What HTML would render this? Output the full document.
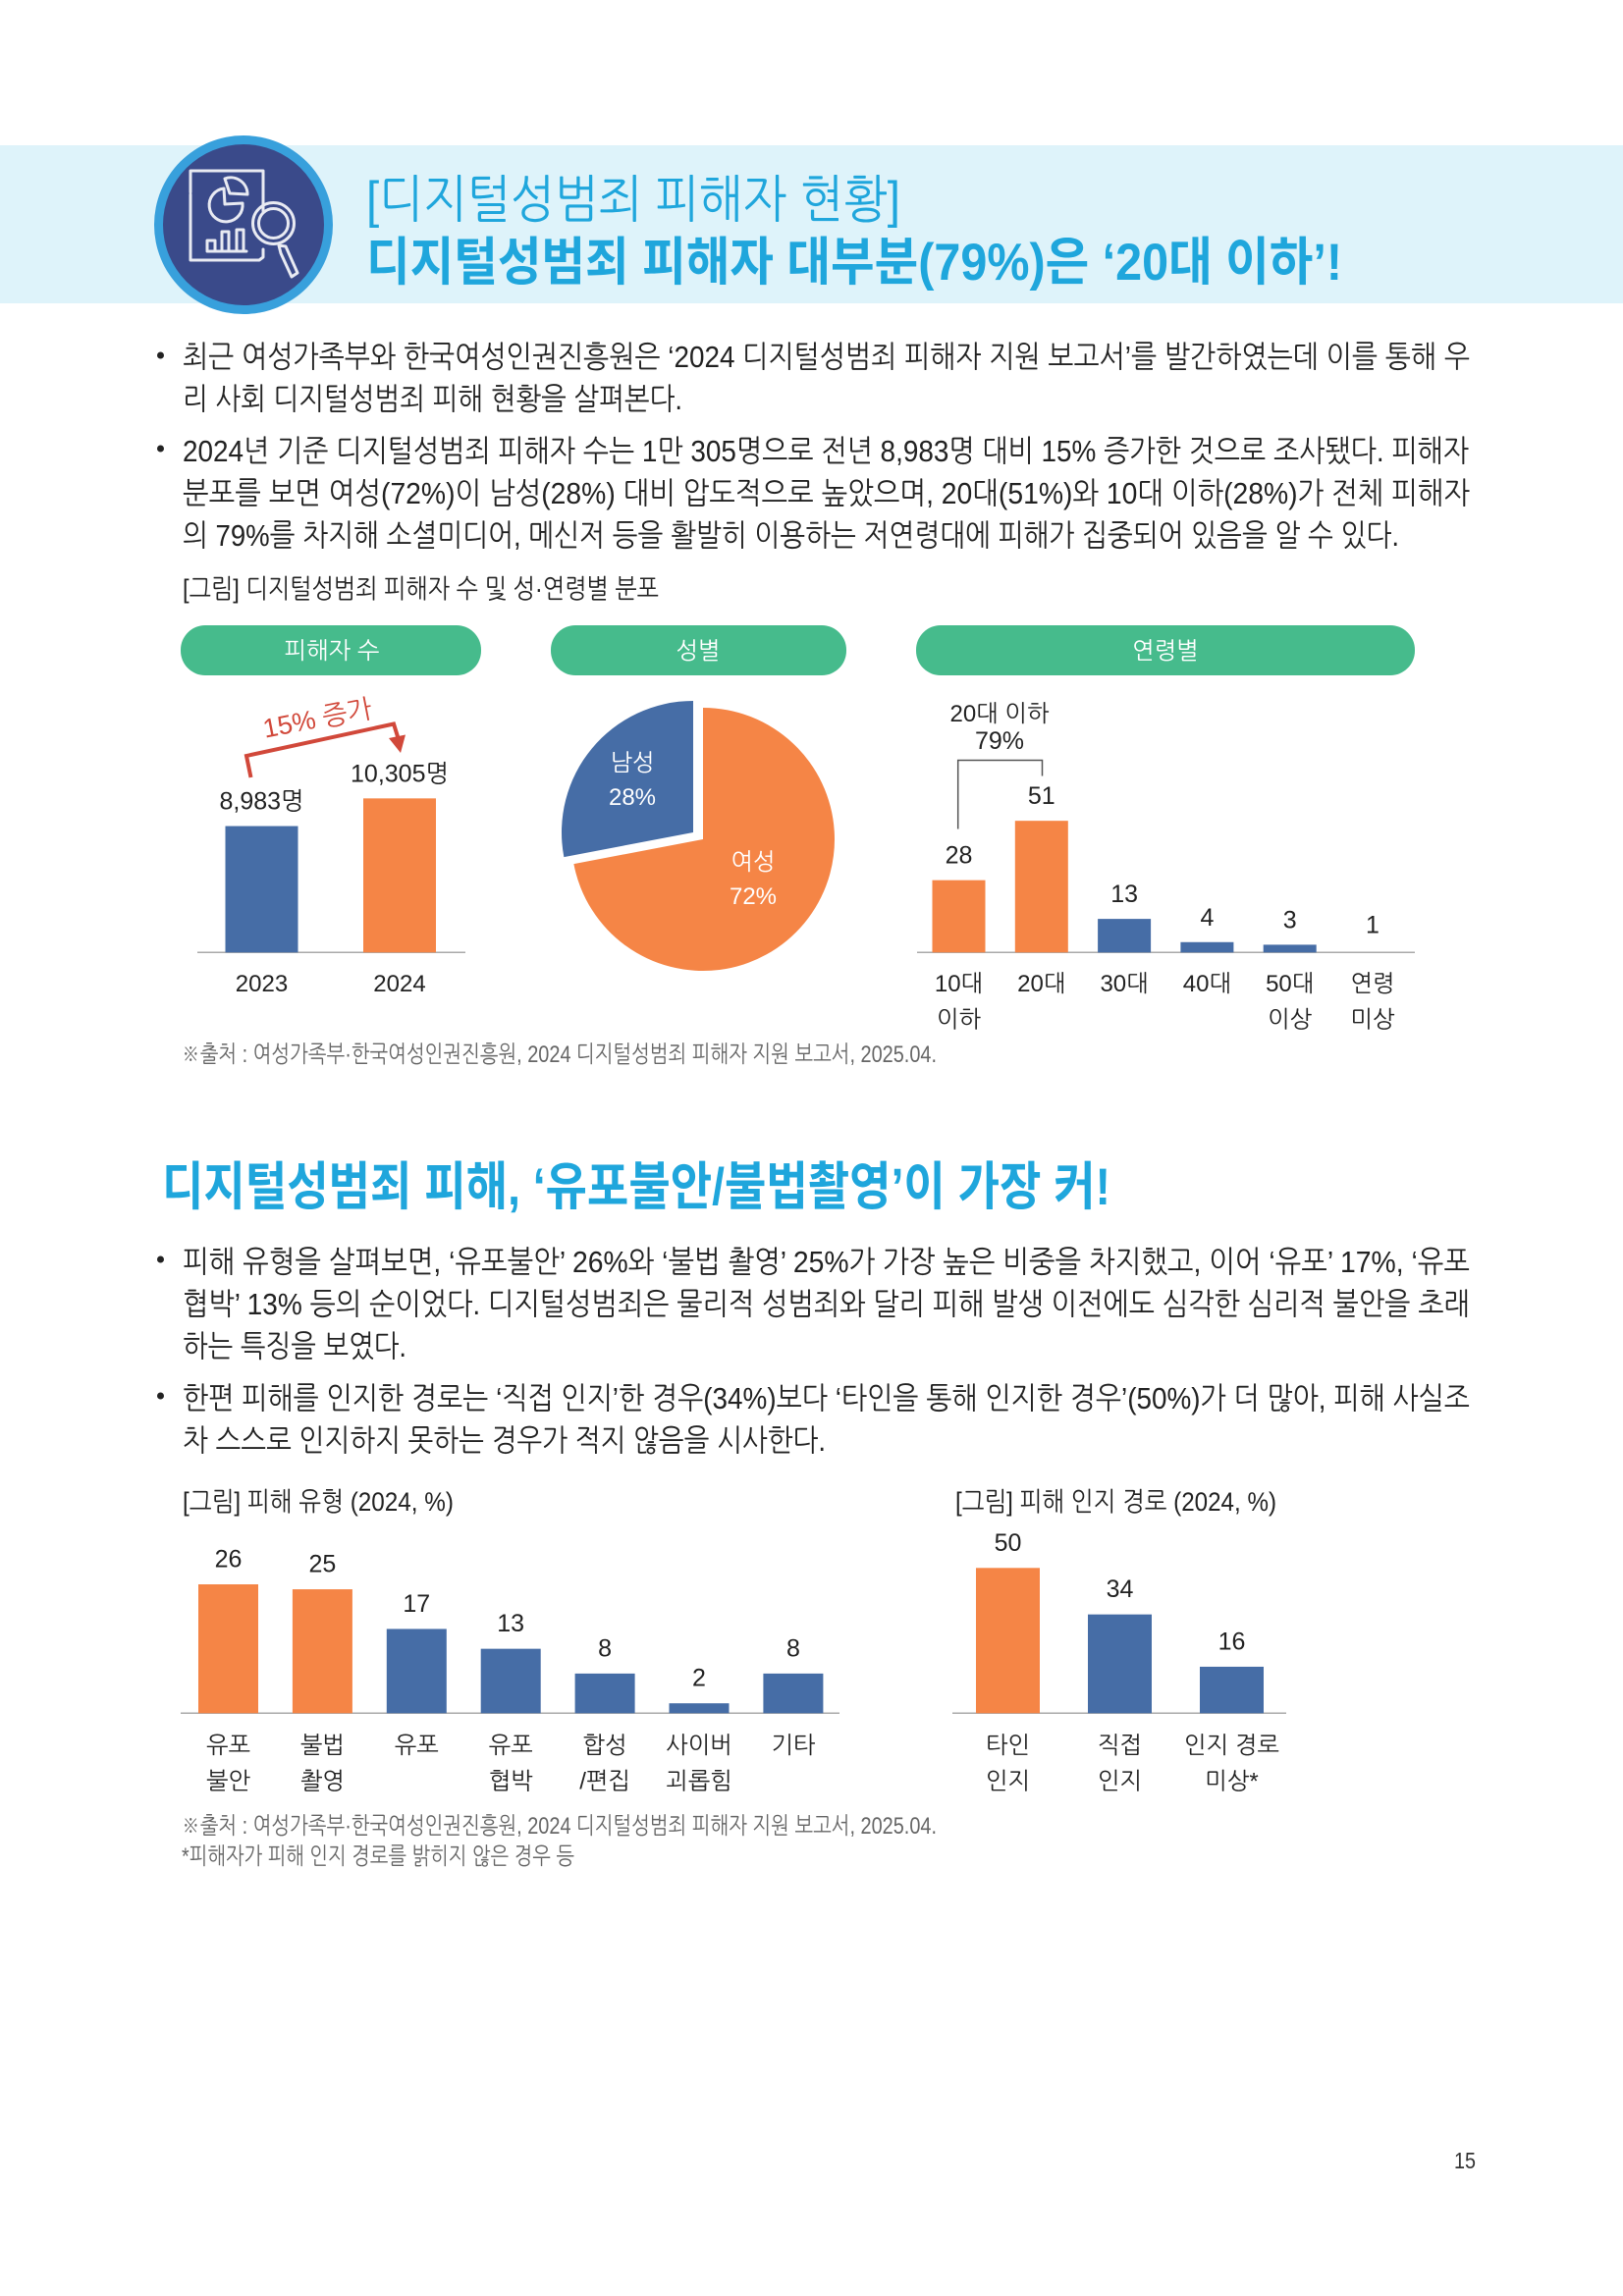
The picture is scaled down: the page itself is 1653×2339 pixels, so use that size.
<!DOCTYPE html>
<html lang="ko">
<head>
<meta charset="utf-8">
<title>디지털성범죄 피해자 현황</title>
<style>
html,body{margin:0;padding:0;background:#fff;}
svg{display:block;}
text{font-family:"Liberation Sans","NanumGothic","Noto Sans CJK KR",sans-serif;fill:#222;}
.body{font-size:31px;}
.cap{font-size:27px;}
.note{font-size:24px;fill:#666;}
.lab{font-size:25px;text-anchor:middle;}
.cat{font-size:24px;text-anchor:middle;}
.pill{font-size:24px;fill:#fff;text-anchor:middle;}
.h1{font-size:52px;fill:#1fa6dc;}
.h2{font-family:"Liberation Sans","Noto Sans CJK KR",sans-serif;font-size:53px;font-weight:700;fill:#1fa6dc;}
</style>
</head>
<body>
<svg id="page" xmlns="http://www.w3.org/2000/svg" width="1653" height="2339" viewBox="0 0 1653 2339">
  <rect x="0" y="148" width="1653" height="161" fill="#def3fa"/>
  <g>
    <circle cx="248" cy="229" r="91" fill="#38a0dc"/>
    <circle cx="248" cy="229" r="82" fill="#3a4a8a"/>
    <g fill="none" stroke="#e8eaf2" stroke-width="3" stroke-linecap="round" stroke-linejoin="round">
      <path d="M194 196V174H268V215M264 265H194V198M268 254V262L264 265"/>
      <path d="M228 192A17 17 0 1 0 247 207L229 208Z"/>
      <path d="M229 182L234 197L252 198A17 17 0 0 0 229 182Z"/>
      <path d="M211 255V245H219V255M226 255V236H233V255M241 255V234H248V255M211 256H251"/>
      <circle cx="278.500" cy="227.500" r="21"/>
      <circle cx="278.500" cy="227.500" r="15"/>
      <path d="M284 250L286 258L297 282L303 278L291 251Z"/>
    </g>
  </g>
  <text class="h1" x="373" y="221" textLength="544" lengthAdjust="spacingAndGlyphs">[디지털성범죄 피해자 현황]</text>
  <text class="h2" x="373" y="285" textLength="994" lengthAdjust="spacingAndGlyphs">디지털성범죄 피해자 대부분(79%)은 ‘20대 이하’!</text>

  <circle cx="163.500" cy="362" r="3.500" fill="#222"/>
  <text class="body" x="186" y="374" textLength="1311" lengthAdjust="spacingAndGlyphs">최근 여성가족부와 한국여성인권진흥원은 ‘2024 디지털성범죄 피해자 지원 보고서’를 발간하였는데 이를 통해 우</text>
  <text class="body" x="186" y="417" textLength="509" lengthAdjust="spacingAndGlyphs">리 사회 디지털성범죄 피해 현황을 살펴본다.</text>
  <circle cx="163.500" cy="457" r="3.500" fill="#222"/>
  <text class="body" x="186" y="470" textLength="1310" lengthAdjust="spacingAndGlyphs">2024년 기준 디지털성범죄 피해자 수는 1만 305명으로 전년 8,983명 대비 15% 증가한 것으로 조사됐다. 피해자</text>
  <text class="body" x="186" y="513" textLength="1311" lengthAdjust="spacingAndGlyphs">분포를 보면 여성(72%)이 남성(28%) 대비 압도적으로 높았으며, 20대(51%)와 10대 이하(28%)가 전체 피해자</text>
  <text class="body" x="186" y="556" textLength="1239" lengthAdjust="spacingAndGlyphs">의 79%를 차지해 소셜미디어, 메신저 등을 활발히 이용하는 저연령대에 피해가 집중되어 있음을 알 수 있다.</text>
  <text class="cap" x="186" y="609" textLength="485" lengthAdjust="spacingAndGlyphs">[그림] 디지털성범죄 피해자 수 및 성·연령별 분포</text>

  <rect x="184" y="637" width="306" height="51" rx="25" fill="#46bb8c"/>
  <text class="pill" x="338" y="671">피해자 수</text>
  <rect x="561" y="637" width="301" height="51" rx="25" fill="#46bb8c"/>
  <text class="pill" x="711" y="671">성별</text>
  <rect x="933" y="637" width="508" height="51" rx="25" fill="#46bb8c"/>
  <text class="pill" x="1187" y="671">연령별</text>

  <g id="chart-count">
    <g>
      <path d="M255.500 792L251 770L401 737.500L405.500 752" fill="none" stroke="#d1483a" stroke-width="4"/>
      <path d="M396 752L413 748.500L408 767Z" fill="#d1483a"/>
    </g>
    <text class="lab" x="0" y="0" transform="translate(325 741) rotate(-11)" style="fill:#d1483a;font-size:27px">15% 증가</text>
  </g>
  <g id="chart-gender"></g>
  <g id="chart-age">
    <path d="M975.700 844.500V774.500H1061.500V790.500" fill="none" stroke="#555" stroke-width="1.500"/>
    <text class="cat" x="1018" y="735">20대 이하</text>
    <text class="lab" x="1018" y="763">79%</text>
  </g>

  <text class="note" x="185" y="1082" textLength="769" lengthAdjust="spacingAndGlyphs">※출처 : 여성가족부·한국여성인권진흥원, 2024 디지털성범죄 피해자 지원 보고서, 2025.04.</text>

  <text class="h2" x="165" y="1227" textLength="966" lengthAdjust="spacingAndGlyphs">디지털성범죄 피해, ‘유포불안/불법촬영’이 가장 커!</text>

  <circle cx="163.500" cy="1283" r="3.500" fill="#222"/>
  <text class="body" x="186" y="1296" textLength="1311" lengthAdjust="spacingAndGlyphs">피해 유형을 살펴보면, ‘유포불안’ 26%와 ‘불법 촬영’ 25%가 가장 높은 비중을 차지했고, 이어 ‘유포’ 17%, ‘유포</text>
  <text class="body" x="186" y="1339" textLength="1311" lengthAdjust="spacingAndGlyphs">협박’ 13% 등의 순이었다. 디지털성범죄은 물리적 성범죄와 달리 피해 발생 이전에도 심각한 심리적 불안을 초래</text>
  <text class="body" x="186" y="1382" textLength="228" lengthAdjust="spacingAndGlyphs">하는 특징을 보였다.</text>
  <circle cx="163.500" cy="1422" r="3.500" fill="#222"/>
  <text class="body" x="186" y="1435" textLength="1311" lengthAdjust="spacingAndGlyphs">한편 피해를 인지한 경로는 ‘직접 인지’한 경우(34%)보다 ‘타인을 통해 인지한 경우’(50%)가 더 많아, 피해 사실조</text>
  <text class="body" x="186" y="1478" textLength="655" lengthAdjust="spacingAndGlyphs">차 스스로 인지하지 못하는 경우가 적지 않음을 시사한다.</text>

  <text class="cap" x="186" y="1539" textLength="276" lengthAdjust="spacingAndGlyphs">[그림] 피해 유형 (2024, %)</text>
  <text class="cap" x="973" y="1539" textLength="327" lengthAdjust="spacingAndGlyphs">[그림] 피해 인지 경로 (2024, %)</text>

  <g id="chart-type"></g>
  <g id="chart-path"></g>

  <text class="note" x="185" y="1868" textLength="769" lengthAdjust="spacingAndGlyphs">※출처 : 여성가족부·한국여성인권진흥원, 2024 디지털성범죄 피해자 지원 보고서, 2025.04.</text>
  <text class="note" x="185" y="1899" textLength="400" lengthAdjust="spacingAndGlyphs">*피해자가 피해 인지 경로를 밝히지 않은 경우 등</text>
  <text x="1481" y="2209" textLength="22" lengthAdjust="spacingAndGlyphs" style="font-size:23px;fill:#333">15</text>
</svg>

<script>
// Chart data
const countYears = ['2023', '2024'];
const countValues = [8983, 10305];
const countLabels = ['8,983명', '10,305명'];

const genderNames = ['여성', '남성'];
const genderShares = [72, 28];

const ageCategories = [['10대', '이하'], ['20대'], ['30대'], ['40대'], ['50대', '이상'], ['연령', '미상']];
const ageValues = [28, 51, 13, 4, 3, 1];

const typeCategories = [['유포', '불안'], ['불법', '촬영'], ['유포'], ['유포', '협박'], ['합성', '/편집'], ['사이버', '괴롭힘'], ['기타']];
const typeValues = [26, 25, 17, 13, 8, 2, 8];

const pathCategories = [['타인', '인지'], ['직접', '인지'], ['인지 경로', '미상*']];
const pathValues = [50, 34, 16];

const NS = 'http://www.w3.org/2000/svg';
const ORANGE = '#f58546';
const BLUE = '#466da6';

function svgEl(tag, parent) {
  const el = document.createElementNS(NS, tag);
  parent.appendChild(el);
  return el;
}

function drawBarChart(opts) {
  const g = document.getElementById(opts.id);
  const axis = svgEl('line', g);
  
  
  axis.setAttribute('x1', opts.axisFrom);
  axis.setAttribute('x2', opts.axisTo);
  axis.setAttribute('y1', opts.base);
  axis.setAttribute('y2', opts.base);
  axis.setAttribute('stroke', '#aaa');
  axis.setAttribute('stroke-width', '1.500');
  opts.values.forEach(function (v, i) {
    const cx = opts.x(i);
    const top = opts.y(v);
    const bar = svgEl('rect', g);
    
    
    bar.setAttribute('x', cx - opts.width / 2);
    bar.setAttribute('y', top);
    bar.setAttribute('width', opts.width);
    bar.setAttribute('height', opts.base - top);
    // marks below the visible threshold are not painted in the source figure
    bar.setAttribute('fill', v < opts.minVisible ? 'none' : opts.color(i));

    const val = svgEl('text', g);
    
    
    val.setAttribute('class', 'lab');
    val.setAttribute('x', cx);
    val.setAttribute('y', top - opts.labelGap);
    val.textContent = opts.labels ? opts.labels[i] : String(v);

    opts.categories[i].forEach(function (line, n) {
      const t = svgEl('text', g);
      
      
      t.setAttribute('class', 'cat');
      t.setAttribute('x', cx);
      t.setAttribute('y', opts.catY + n * 36.500);
      t.textContent = line;
    });
  });
}

// Victim count: the printed bars use a truncated baseline
drawBarChart({
  id: 'chart-count', values: countValues, labels: countLabels,
  categories: countYears.map(function (y) { return [y]; }),
  axisFrom: 201, axisTo: 474, base: 970.3, width: 74, labelGap: 17, catY: 1010, minVisible: 0,
  x: function (i) { return 266.500 + i * 140.500; },
  y: function (v) { return 970.3 - (v - 2950) * 0.02134; },
  color: function (i) { return i === 0 ? BLUE : ORANGE; }
});

drawBarChart({
  id: 'chart-age', values: ageValues, categories: ageCategories,
  axisFrom: 934, axisTo: 1441, base: 970.3, width: 54, labelGap: 17, catY: 1010, minVisible: 2,
  x: function (i) { return 976.5 + i * 84.300; },
  y: function (v) { return 970.3 - v * 2.63; },
  color: function (i) { return i < 2 ? ORANGE : BLUE; }
});

drawBarChart({
  id: 'chart-type', values: typeValues, categories: typeCategories,
  axisFrom: 184, axisTo: 855, base: 1745.3, width: 61, labelGap: 17.5, catY: 1786, minVisible: 0,
  x: function (i) { return 232.5 + i * 95.9; },
  y: function (v) { return 1745.3 - v * 5.05; },
  color: function (i) { return i < 2 ? ORANGE : BLUE; }
});

drawBarChart({
  id: 'chart-path', values: pathValues, categories: pathCategories,
  axisFrom: 970, axisTo: 1310, base: 1745.3, width: 65, labelGap: 17.5, catY: 1786, minVisible: 0,
  x: function (i) { return 1026.500 + i * 114; },
  y: function (v) { return 1745.3 - v * 2.96; },
  color: function (i) { return i === 0 ? ORANGE : BLUE; }
});

// Gender pie: slices clockwise from 12 o'clock, the smaller one pulled out
(function () {
  const g = document.getElementById('chart-gender');
  const total = genderShares.reduce(function (a, b) { return a + b; }, 0);
  const radius = 134;
  const centers = [[716, 855], [706, 848]];
  const colors = [ORANGE, BLUE];
  const labelPos = [[767, 886], [644, 785]];
  let start = 0;
  function pt(c, f) {
    const a = f * 2 * Math.PI;
    return [c[0] + radius * Math.sin(a), c[1] - radius * Math.cos(a)];
  }
  genderShares.forEach(function (share, i) {
    const end = start + share / total;
    const c = centers[i];
    const p0 = pt(c, start);
    const p1 = pt(c, end);
    const slice = svgEl('path', g);
    
    
    slice.setAttribute('d', 'M' + c[0] + ' ' + c[1] + 'L' + p0[0] + ' ' + p0[1] +
      'A' + radius + ' ' + radius + ' 0 ' + (end - start > 0.5 ? 1 : 0) + ' 1 ' + p1[0] + ' ' + p1[1] + 'Z');
    slice.setAttribute('fill', colors[i]);

    const name = svgEl('text', g);
    
    
    name.setAttribute('class', 'pill');
    name.setAttribute('x', labelPos[i][0]);
    name.setAttribute('y', labelPos[i][1]);
    name.textContent = genderNames[i];

    const pct = svgEl('text', g);
    
    
    pct.setAttribute('class', 'pill');
    pct.setAttribute('x', labelPos[i][0]);
    pct.setAttribute('y', labelPos[i][1] + 35);
    pct.textContent = share + '%';
    start = end;
  });
})();
</script>
</body>
</html>
